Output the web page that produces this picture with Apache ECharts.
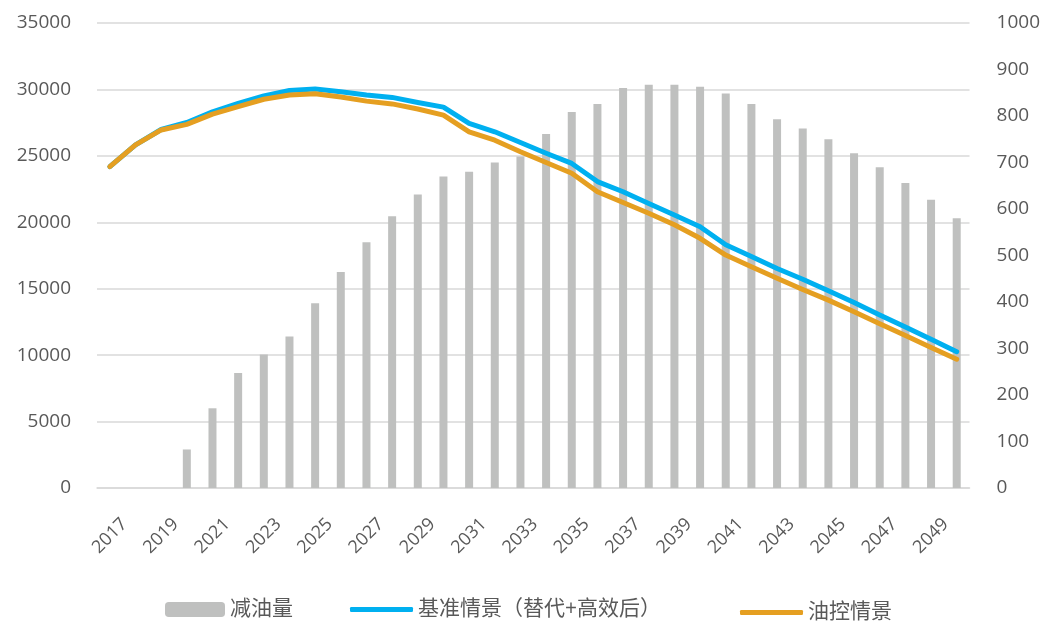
<html><head>
<meta charset="UTF-8">
<title>减油量与情景</title>
<style>
  body { margin: 0; background: #fff; }
  #chart { width: 1043px; height: 621px; }
</style>
</head>
<body>
<div id="chart"></div>
<script src="https://cdn.jsdelivr.net/npm/echarts@6/dist/echarts.min.js"></script>
<script>
  // 年份 2017-2050
  const years = [];
  for (let y = 2017; y <= 2050; y++) years.push(String(y));

  // 减油量（左轴）
  const reduction = [null, null, null, 2900, 6000, 8650, 10050, 11400, 13900, 16250,
    18500, 20450, 22100, 23450, 23800, 24500, 24950, 26650, 28300, 28900,
    30100, 30350, 30350, 30200, 29700, 28900, 27750, 27050, 26250, 25200,
    24150, 22950, 21700, 20300];

  // 基准情景（替代+高效后）（右轴）
  const baseline = [691, 738, 771, 786, 809, 827, 843, 855, 858, 852,
    845, 840, 829, 819, 784, 766, 743, 720, 698, 659,
    637, 612, 587, 562, 523, 498, 472, 449, 424, 399,
    372, 346, 320, 293];

  // 油控情景（右轴）
  const oilControl = [691, 738, 770, 782, 804, 820, 836, 845, 848, 841,
    832, 826, 815, 802, 766, 748, 723, 700, 677, 637,
    614, 591, 566, 537, 501, 476, 451, 427, 404, 379,
    353, 328, 302, 277];

  const fontFam = "'Open Sans', 'Noto Sans CJK SC', sans-serif";
  const labelColor = '#595959';
  const gridColor = '#d9d9d9';
  const legendText = { color: labelColor, fontSize: 21, fontFamily: fontFam };

  const chart = echarts.init(document.getElementById('chart'));
  chart.setOption({
    animation: false,
    textStyle: { fontFamily: fontFam },
    grid: { left: 97, right: 73, top: 23, bottom: 133 },
    legend: [
      {
        data: ['减油量'], left: 160, top: 594,
        itemWidth: 60, itemHeight: 15, textStyle: legendText
      },
      {
        data: ['基准情景（替代+高效后）'], left: 345, top: 594,
        icon: 'roundRect', itemWidth: 63, itemHeight: 5, textStyle: legendText
      },
      {
        data: ['油控情景'], left: 735, top: 597,
        icon: 'roundRect', itemWidth: 63, itemHeight: 5, textStyle: legendText
      }
    ],
    xAxis: {
      type: 'category',
      data: years,
      axisLine: { lineStyle: { color: gridColor, width: 1.5 } },
      axisTick: { show: false },
      axisLabel: {
        interval: 1, rotate: 45, align: 'center', verticalAlign: 'middle',
        margin: 48, color: labelColor, fontSize: 18
      }
    },
    yAxis: [
      {
        type: 'value', min: 0, max: 35000, interval: 5000,
        axisLine: { show: false }, axisTick: { show: false },
        axisLabel: { color: labelColor, fontSize: 19, margin: 26, formatter: v => String(v) },
        splitLine: { lineStyle: { color: gridColor, width: 1.5 } }
      },
      {
        type: 'value', min: 0, max: 1000, interval: 100,
        axisLine: { show: false }, axisTick: { show: false },
        axisLabel: { color: labelColor, fontSize: 19, margin: 27, formatter: v => String(v) },
        splitLine: { show: false }
      }
    ],
    series: [
      {
        name: '减油量', type: 'bar', yAxisIndex: 0,
        data: reduction, barWidth: 8,
        itemStyle: { color: '#bfc0bf' }
      },
      {
        name: '基准情景（替代+高效后）', type: 'line', yAxisIndex: 1,
        data: baseline, symbol: 'none',
        lineStyle: { color: '#00b0f0', width: 5, cap: 'round', join: 'round' },
        itemStyle: { color: '#00b0f0' }
      },
      {
        name: '油控情景', type: 'line', yAxisIndex: 1,
        data: oilControl, symbol: 'none',
        lineStyle: { color: '#e59f21', width: 5, cap: 'round', join: 'round' },
        itemStyle: { color: '#e59f21' }
      }
    ]
  });
</script>
</body></html>
